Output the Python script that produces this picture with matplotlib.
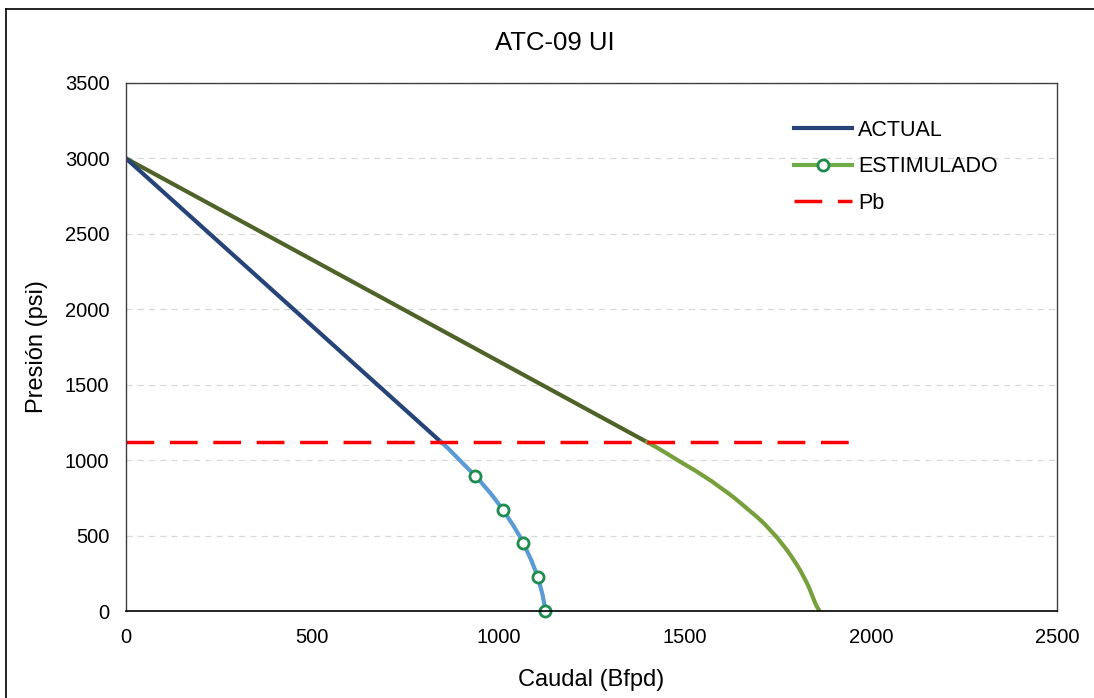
import matplotlib.pyplot as plt
from matplotlib.lines import Line2D

plt.rcParams['font.family'] = ['Liberation Sans', 'DejaVu Sans']

# ACTUAL: recta por encima de Pb, curva de Vogel por debajo
act_recta_q = [0, 846]
act_recta_p = [3000, 1120]
act_curva_q = [846, 864, 880, 896, 910, 924, 938, 952, 965, 978, 990, 1001, 1012, 1022, 1031, 1041,
               1050, 1059, 1067, 1074, 1081, 1088, 1094, 1100, 1106, 1110, 1114, 1118, 1121, 1124, 1126]
act_curva_p = [1120, 1080, 1040, 1000, 965, 930, 895, 858, 820, 783, 745, 708, 670, 635, 600, 563,
               525, 488, 450, 413, 375, 338, 300, 263, 225, 188, 150, 113, 75, 38, 0]
act_marc_q = [938, 1012, 1067, 1106, 1126]
act_marc_p = [895, 670, 450, 225, 0]

# ESTIMULADO
est_recta_q = [0, 1399]
est_recta_p = [3000, 1120]
est_curva_q = [1399, 1428, 1455, 1481, 1505, 1529, 1551, 1574, 1595, 1616, 1636, 1654, 1672, 1689,
               1705, 1720, 1734, 1748, 1760, 1772, 1783, 1793, 1803, 1812, 1820, 1828, 1835, 1841,
               1847, 1852, 1856, 1860, 1862]
est_curva_p = [1120, 1080, 1040, 1000, 965, 930, 895, 858, 820, 783, 745, 708, 670, 635,
               600, 563, 525, 488, 450, 413, 375, 338, 300, 263, 225, 188, 150, 113,
               75, 45, 25, 10, 0]

# Pb
pb_q = [0, 1965]
pb_p = [1120, 1120]

fig = plt.figure(figsize=(10.94, 6.98), dpi=100)
ax = fig.add_axes([0.1152, 0.1246, 0.851, 0.7565])

ax.plot(est_recta_q, est_recta_p, color="#4F6228", linewidth=3)
ax.plot(est_curva_q, est_curva_p, color="#77A03C", linewidth=3)
ax.plot(act_recta_q, act_recta_p, color="#264478", linewidth=3)
ax.plot(act_curva_q, act_curva_p, color="#5B9BD5", linewidth=3)
ax.plot(act_marc_q, act_marc_p, linestyle="none", marker="o", markersize=8,
        markerfacecolor="white", markeredgecolor="#1E8C4E", markeredgewidth=2, clip_on=False)
ax.plot(pb_q, pb_p, color="#FF0000", linewidth=2.5, dashes=(8, 4.5))

ax.set_xlim(0, 2500)
ax.set_ylim(0, 3500)
ax.set_xticks(range(0, 2501, 500))
ax.set_yticks(range(0, 3501, 500))
ax.tick_params(length=0, labelsize=14.5, pad=12)
ax.yaxis.grid(True, color="#D9D9D9", linestyle=(0, (5, 4)), linewidth=0.9)
ax.set_axisbelow(True)
for s in ["top", "right", "left"]:
    ax.spines[s].set_color("#404040")
    ax.spines[s].set_linewidth(1)
ax.spines["bottom"].set_color("black")
ax.spines["bottom"].set_linewidth(1.2)

ax.set_xlabel("Caudal (Bfpd)", fontsize=17, labelpad=16)
ax.set_ylabel("Presión (psi)", fontsize=17, labelpad=12)
fig.text(0.507, 0.938, "ATC-09 UI", fontsize=18.5, ha="center", va="center")

handles = [
    Line2D([], [], color="#264478", linewidth=3),
    Line2D([], [], color="#70AD47", linewidth=3, marker="o", markersize=8,
           markerfacecolor="white", markeredgecolor="#1E8C4E", markeredgewidth=2),
    Line2D([], [], color="#FF0000", linewidth=2.5, dashes=(8, 4.5)),
]
ax.legend(handles, ["ACTUAL", "ESTIMULADO", "Pb"], loc="upper left",
          bbox_to_anchor=(0.697, 0.967), frameon=False, fontsize=15.5,
          handlelength=2.7, labelspacing=0.72, handletextpad=0.25)

# marco exterior del gráfico
fig.add_artist(Line2D([0.0055, 0.0055], [0, 0.987], color="black", linewidth=1.2))
fig.add_artist(Line2D([0.0055, 1], [0.987, 0.987], color="black", linewidth=1.2))

fig.savefig("out.png", dpi=100)
